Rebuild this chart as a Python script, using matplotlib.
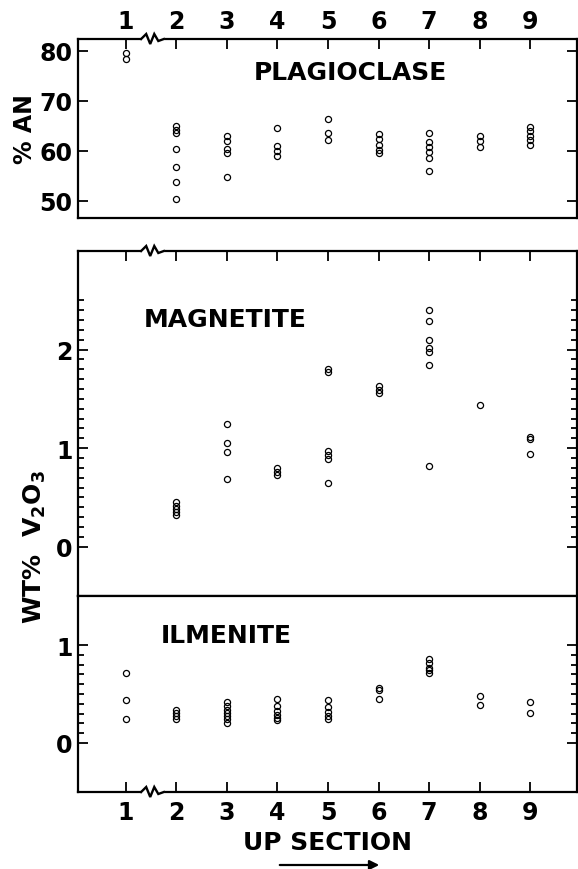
import matplotlib
matplotlib.use("Agg")
import numpy as np
import matplotlib.pyplot as plt
from matplotlib.patches import FancyArrowPatch

# ── Data: one list of analyses per stratigraphic section ─────────
SECTIONS = [1, 2, 3, 4, 5, 6, 7, 8, 9]
SECTION_LABELS = ["1", "2", "3", "4", "5", "6", "7", "8", "9"]

# plagioclase composition, % An
PLAG_AN = [
    [79.6, 78.3],
    [64.9, 64.2, 63.5, 60.3, 56.7, 53.7, 50.3],
    [62.9, 62.0, 60.3, 59.5, 54.8],
    [64.5, 61.0, 60.0, 59.0],
    [66.3, 63.5, 62.1],
    [63.3, 62.3, 61.2, 60.2, 59.6],
    [63.6, 61.7, 60.7, 59.7, 58.5, 56.0],
    [63.0, 61.9, 60.7],
    [64.8, 63.9, 63.0, 62.1, 61.1],
]

# magnetite, wt% V2O3
MAG_V2O3 = [
    [],
    [0.45, 0.41, 0.38, 0.35, 0.32],
    [1.24, 1.05, 0.96, 0.69],
    [0.80, 0.76, 0.73],
    [1.80, 1.77, 0.97, 0.93, 0.89, 0.65],
    [1.63, 1.59, 1.56],
    [2.40, 2.29, 2.10, 2.02, 1.98, 1.84, 0.82],
    [1.44],
    [1.11, 1.09, 0.94],
]

# ilmenite, wt% V2O3
ILM_V2O3 = [
    [0.71, 0.44, 0.25],
    [0.34, 0.31, 0.28, 0.25],
    [0.42, 0.38, 0.34, 0.31, 0.28, 0.24, 0.20],
    [0.45, 0.38, 0.33, 0.29, 0.26, 0.23],
    [0.44, 0.37, 0.32, 0.28, 0.25],
    [0.56, 0.54, 0.45],
    [0.86, 0.82, 0.77, 0.74, 0.71],
    [0.48, 0.39],
    [0.42, 0.31],
]

# ── Figure setup ─────────────────────────────────────────────────
W, H = 578, 870
plt.rcParams["font.family"] = "DejaVu Sans"
plt.rcParams["font.weight"] = "bold"
plt.rcParams["mathtext.default"] = "bf"

fig = plt.figure(figsize=(W / 100, H / 100), dpi=100)
fig.patch.set_facecolor("white")


def px_axes(left, top, right, bottom):
    """Add axes from pixel edges (origin at top-left)."""
    return fig.add_axes([left / W, 1 - bottom / H, (right - left) / W, (bottom - top) / H])


ax_plag = px_axes(78, 40, 577, 219)
ax_mag = px_axes(78, 252, 577, 597)
ax_ilm = px_axes(78, 597, 577, 793)

XLIM = (0.05, 9.93)
LABEL_SIZE = 17


def scatter_sections(ax, values):
    for sec, vals in zip(SECTIONS, values):
        if vals:
            ax.plot([sec] * len(vals), vals, "o", ms=4.4, mfc="none",
                    mec="black", mew=0.9, ls="none", clip_on=False)


def style_axes(ax):
    ax.set_xlim(*XLIM)
    for sp in ax.spines.values():
        sp.set_linewidth(1.6)
    ax.tick_params(which="both", direction="in", width=1.3, colors="black",
                   labelsize=LABEL_SIZE)
    ax.tick_params(which="major", length=7)
    ax.tick_params(which="minor", length=4.5)
    ax.tick_params(axis="y", which="both", left=True, right=True,
                   labelleft=True, labelright=False, pad=4)
    ax.set_xticks(SECTIONS)
    ax.set_xticklabels(SECTION_LABELS)


def draw_break(ax, at_top):
    """Zig-zag on an x spine between sections 1 and 2."""
    h_px = ax.get_position().height * H
    y0 = 1.0 if at_top else 0.0
    xs = [1.30, 1.40, 1.48, 1.56, 1.64, 1.75]
    offs = [0, 5, -5, 5, -2, 0]
    ys = [y0 + o / h_px for o in offs]
    tr = ax.get_xaxis_transform()
    ax.plot([1.30, 1.75], [y0, y0], color="white", lw=3.5, transform=tr,
            clip_on=False, zorder=5, solid_capstyle="butt")
    ax.plot(xs, ys, color="black", lw=1.7, transform=tr, clip_on=False,
            zorder=6, solid_joinstyle="miter")


# ── Plagioclase ──────────────────────────────────────────────────
style_axes(ax_plag)
ax_plag.set_ylim(46.5, 82.3)
ax_plag.set_yticks([50, 60, 70, 80])
ax_plag.tick_params(axis="x", top=True, bottom=False, labeltop=True,
                    labelbottom=False, pad=4)
scatter_sections(ax_plag, PLAG_AN)
ax_plag.set_ylabel("% AN", fontsize=17, fontweight="bold", labelpad=2)
ax_plag.text(0.545, 0.815, "PLAGIOCLASE", transform=ax_plag.transAxes,
             ha="center", va="center", fontsize=18, fontweight="bold")
draw_break(ax_plag, at_top=True)

# ── Magnetite ────────────────────────────────────────────────────
style_axes(ax_mag)
ax_mag.set_ylim(-0.5, 3.0)
ax_mag.set_yticks([0, 1, 2])
ax_mag.set_yticks(np.round(np.arange(0, 2.51, 0.1), 2), minor=True)
ax_mag.tick_params(axis="x", top=True, bottom=False, labeltop=False,
                   labelbottom=False)
scatter_sections(ax_mag, MAG_V2O3)
ax_mag.text(0.294, 0.803, "MAGNETITE", transform=ax_mag.transAxes,
            ha="center", va="center", fontsize=18, fontweight="bold")
draw_break(ax_mag, at_top=True)

# ── Ilmenite ─────────────────────────────────────────────────────
style_axes(ax_ilm)
ax_ilm.set_ylim(-0.5, 1.5)
ax_ilm.set_yticks([0, 1])
ax_ilm.set_yticks(np.round(np.arange(0, 1.01, 0.1), 2), minor=True)
ax_ilm.tick_params(axis="x", top=False, bottom=True, labeltop=False,
                   labelbottom=True, pad=6)
scatter_sections(ax_ilm, ILM_V2O3)
ax_ilm.text(0.297, 0.80, "ILMENITE", transform=ax_ilm.transAxes,
            ha="center", va="center", fontsize=18, fontweight="bold")
ax_ilm.set_xlabel("UP SECTION", fontsize=18, fontweight="bold", labelpad=4)
draw_break(ax_ilm, at_top=False)

# shared label for both oxide panels
fig.text(35 / W, 1 - 547 / H, r"WT%  V$_2$O$_3$", rotation=90, ha="center",
         va="center", fontsize=18, fontweight="bold")

# direction arrow under the axis label
arrow = FancyArrowPatch((277 / W, 1 - 866 / H), (382 / W, 1 - 866 / H),
                        transform=fig.transFigure, arrowstyle="-|>",
                        mutation_scale=14, lw=1.6, color="black")
fig.add_artist(arrow)

fig.savefig("out.png", dpi=100, facecolor="white")
